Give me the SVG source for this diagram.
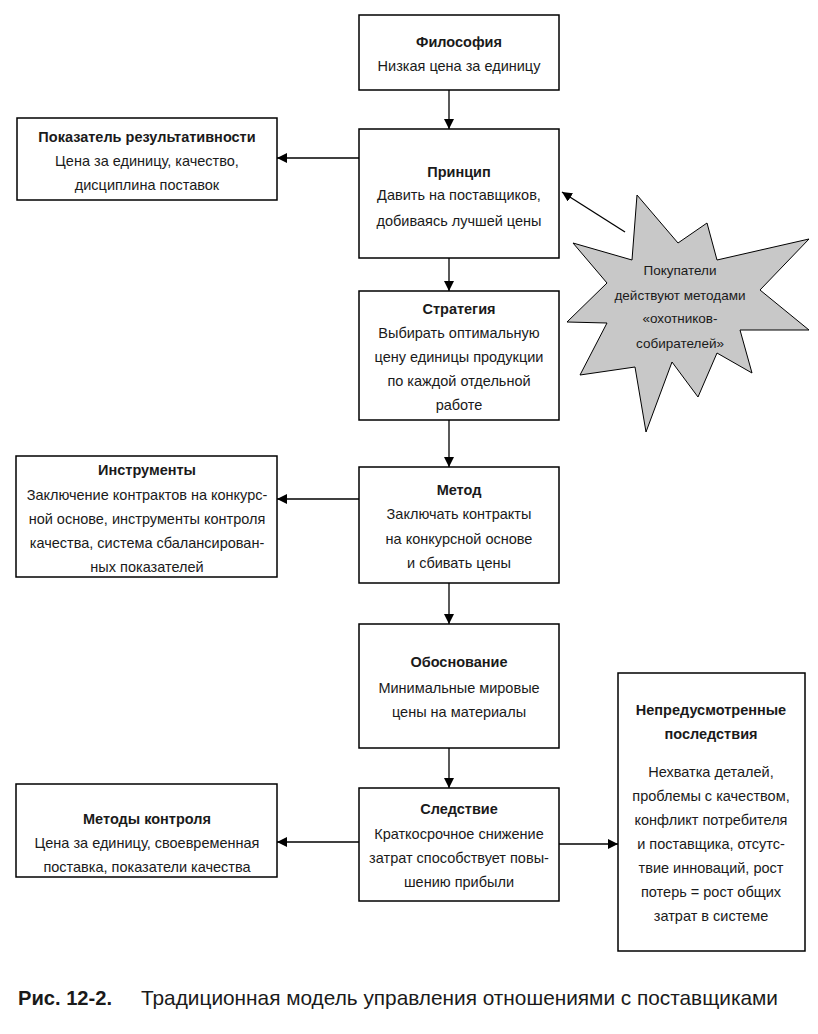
<svg xmlns="http://www.w3.org/2000/svg" width="818" height="1034" viewBox="0 0 818 1034">
<style>
.box{fill:#fff;stroke:#000;stroke-width:1.5}
.t{font-family:"Liberation Sans",Arial,sans-serif;font-size:14.5px;fill:#1a1a1a;text-anchor:middle}
.b{font-weight:bold}
.c{stroke:#000;stroke-width:1.3;fill:none}
.star{fill:#c8c8c8;stroke:#000;stroke-width:1}
.cap{font-family:"Liberation Sans",Arial,sans-serif;font-size:21px;fill:#1a1a1a}
</style>
<defs>
<marker id="ah" viewBox="0 0 10 10" refX="10" refY="5" markerWidth="10" markerHeight="10" markerUnits="userSpaceOnUse" orient="auto">
<path d="M0,0 L10,5 L0,10 z" fill="#000"/>
</marker>
</defs>
<rect width="818" height="1034" fill="#fff"/>
<g id="connectors">
<line class="c" x1="449" y1="90" x2="449" y2="129" marker-end="url(#ah)"/>
<line class="c" x1="449" y1="258" x2="449" y2="291" marker-end="url(#ah)"/>
<line class="c" x1="449" y1="420" x2="449" y2="467" marker-end="url(#ah)"/>
<line class="c" x1="449" y1="583" x2="449" y2="624" marker-end="url(#ah)"/>
<line class="c" x1="449" y1="748" x2="449" y2="788" marker-end="url(#ah)"/>
<line class="c" x1="359" y1="158" x2="277" y2="158" marker-end="url(#ah)"/>
<line class="c" x1="359" y1="499" x2="277" y2="499" marker-end="url(#ah)"/>
<line class="c" x1="359" y1="842" x2="277" y2="842" marker-end="url(#ah)"/>
<line class="c" x1="559" y1="844" x2="618" y2="844" marker-end="url(#ah)"/>
<line class="c" x1="625" y1="232" x2="562" y2="192" marker-end="url(#ah)"/>
</g>
<g id="philosophy">
<rect class="box" x="359" y="15" width="200" height="75"/>
<text class="t b" x="459" y="47">Философия</text>
<text class="t" x="459" y="71">Низкая цена за единицу</text>
</g>
<g id="principle">
<rect class="box" x="359" y="129" width="200" height="129"/>
<text class="t b" x="459" y="177">Принцип</text>
<text class="t" x="459" y="200">Давить на поставщиков,</text>
<text class="t" x="459" y="226">добиваясь лучшей цены</text>
</g>
<g id="indicator">
<rect class="box" x="17" y="118" width="260" height="82"/>
<text class="t b" x="147" y="142">Показатель результативности</text>
<text class="t" x="147" y="166">Цена за единицу, качество,</text>
<text class="t" x="147" y="190">дисциплина поставок</text>
</g>
<g id="hunters">
<polygon class="star" points="637,195 678,243 707,223 717,260 809,239 760,290 809,330 740,330 752,373 717,353 698,397 672,362 646,432 635,367 580,375 607,323 567,322 607,283 573,243 632,260"/>
<text class="t" x="680" y="275" style="font-size:13.5px">Покупатели</text>
<text class="t" x="680" y="300" style="font-size:13.5px">действуют методами</text>
<text class="t" x="680" y="323" style="font-size:13.5px">«охотников-</text>
<text class="t" x="680" y="348" style="font-size:13.5px">собирателей»</text>
</g>
<g id="strategy">
<rect class="box" x="359" y="291" width="200" height="129"/>
<text class="t b" x="459" y="314">Стратегия</text>
<text class="t" x="459" y="338">Выбирать оптимальную</text>
<text class="t" x="459" y="362">цену единицы продукции</text>
<text class="t" x="459" y="386">по каждой отдельной</text>
<text class="t" x="459" y="410">работе</text>
</g>
<g id="tools">
<rect class="box" x="16" y="456" width="261" height="121"/>
<text class="t b" x="147" y="475">Инструменты</text>
<text class="t" x="147" y="500">Заключение контрактов на конкурс-</text>
<text class="t" x="147" y="524">ной основе, инструменты контроля</text>
<text class="t" x="147" y="548">качества, система сбалансирован-</text>
<text class="t" x="147" y="572">ных показателей</text>
</g>
<g id="method">
<rect class="box" x="359" y="467" width="200" height="116"/>
<text class="t b" x="459" y="495">Метод</text>
<text class="t" x="459" y="519">Заключать контракты</text>
<text class="t" x="459" y="544">на конкурсной основе</text>
<text class="t" x="459" y="568">и сбивать цены</text>
</g>
<g id="rationale">
<rect class="box" x="359" y="624" width="200" height="124"/>
<text class="t b" x="459" y="667">Обоснование</text>
<text class="t" x="459" y="693">Минимальные мировые</text>
<text class="t" x="459" y="717">цены на материалы</text>
</g>
<g id="consequence">
<rect class="box" x="359" y="788" width="200" height="113"/>
<text class="t b" x="459" y="814">Следствие</text>
<text class="t" x="459" y="839">Краткосрочное снижение</text>
<text class="t" x="459" y="863">затрат способствует повы-</text>
<text class="t" x="459" y="887">шению прибыли</text>
</g>
<g id="control">
<rect class="box" x="16" y="784" width="261" height="93"/>
<text class="t b" x="147" y="824">Методы контроля</text>
<text class="t" x="147" y="848">Цена за единицу, своевременная</text>
<text class="t" x="147" y="872">поставка, показатели качества</text>
</g>
<g id="unintended">
<rect class="box" x="618" y="673" width="187" height="278"/>
<text class="t b" x="711" y="715">Непредусмотренные</text>
<text class="t b" x="711" y="739">последствия</text>
<text class="t" x="711" y="777">Нехватка деталей,</text>
<text class="t" x="711" y="801">проблемы с качеством,</text>
<text class="t" x="711" y="825">конфликт потребителя</text>
<text class="t" x="711" y="849">и поставщика, отсутс-</text>
<text class="t" x="711" y="873">твие инноваций, рост</text>
<text class="t" x="711" y="897">потерь = рост общих</text>
<text class="t" x="711" y="921">затрат в системе</text>
</g>
<g id="caption">
<text class="cap" x="18" y="1005" style="font-weight:bold" textLength="94" lengthAdjust="spacingAndGlyphs">Рис. 12-2.</text>
<text class="cap" x="141" y="1005" textLength="637" lengthAdjust="spacingAndGlyphs">Традиционная модель управления отношениями с поставщиками</text>
</g>
</svg>
